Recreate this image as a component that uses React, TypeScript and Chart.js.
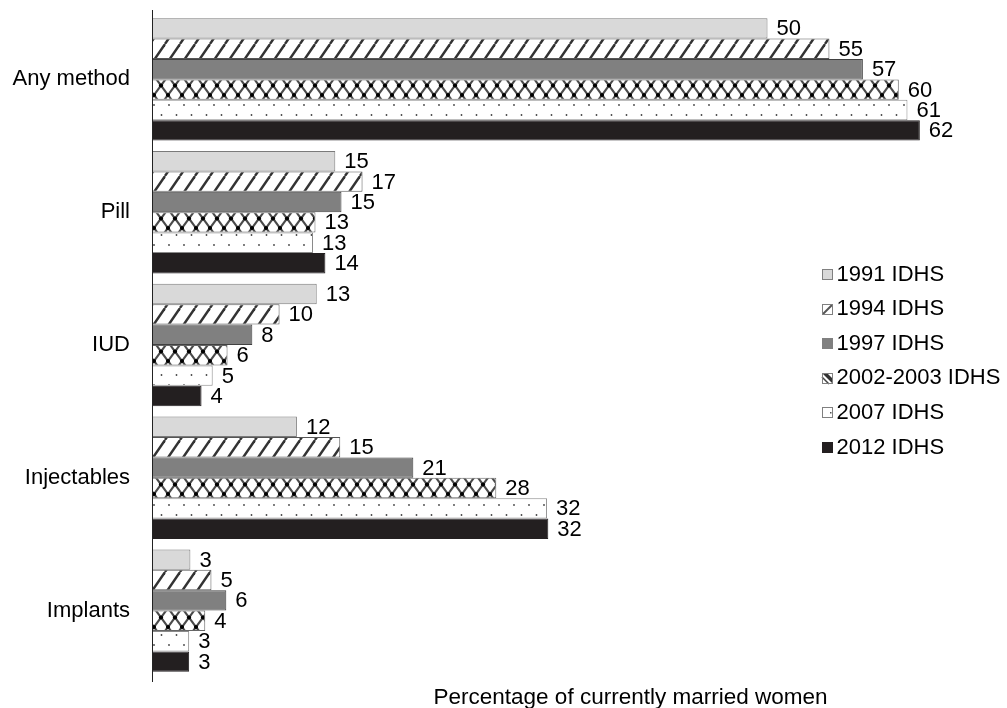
import React, { useEffect, useRef } from "react";
import { Chart, registerables } from "chart.js";

Chart.register(...registerables);

const categories = ["Any method", "Pill", "IUD", "Injectables", "Implants"];
const seriesNames = ["1991 IDHS", "1994 IDHS", "1997 IDHS", "2002-2003 IDHS", "2007 IDHS", "2012 IDHS"];
const values1991 = [49.7, 14.8, 13.3, 11.7, 3.1];
const values1994 = [54.7, 17.0, 10.3, 15.2, 4.8];
const values1997 = [57.4, 15.3, 8.1, 21.1, 6.0];
const values2002 = [60.3, 13.2, 6.1, 27.8, 4.3];
const values2007 = [61.0, 13.0, 4.9, 31.9, 3.0];
const values2012 = [62.0, 14.0, 4.0, 32.0, 3.0];
const axisTitle = "Percentage of currently married women";
const xMin = 0;
const xMax = 65;

const FONT = "'Liberation Sans', Arial, Helvetica, sans-serif";

function makeTile(w: number, h: number, draw: (g: CanvasRenderingContext2D) => void) {
  const c = document.createElement("canvas");
  c.width = w;
  c.height = h;
  const g = c.getContext("2d")!;
  draw(g);
  return c;
}

function buildPatterns(ctx: CanvasRenderingContext2D) {
  const hatch = ctx.createPattern(
    makeTile(15, 22, (g) => {
      g.fillStyle = "#ffffff";
      g.fillRect(0, 0, 15, 22);
      g.strokeStyle = "#333333";
      g.lineWidth = 2.4;
      for (const x of [-15, 0, 15]) {
        g.beginPath();
        g.moveTo(x, 22);
        g.lineTo(x + 15, 0);
        g.stroke();
      }
    }),
    "repeat"
  )!;
  const CW = 14;
  const CH = 19;
  const cross = ctx.createPattern(
    makeTile(CW, CH, (g) => {
      g.fillStyle = "#ffffff";
      g.fillRect(0, 0, CW, CH);
      g.strokeStyle = "#4a4a4a";
      g.lineWidth = 2.2;
      for (const dx of [-CW, 0, CW]) {
        for (const dy of [-CH, 0, CH]) {
          g.beginPath();
          g.moveTo(dx, dy);
          g.lineTo(dx + CW, dy + CH);
          g.stroke();
          g.beginPath();
          g.moveTo(dx + CW, dy);
          g.lineTo(dx, dy + CH);
          g.stroke();
        }
      }
      g.fillStyle = "#000000";
      for (const [x, y] of [[0, 0], [CW, 0], [0, CH], [CW, CH], [CW / 2, CH / 2]]) {
        g.beginPath();
        g.arc(x, y, 2.1, 0, Math.PI * 2);
        g.fill();
      }
    }),
    "repeat"
  )!;
  const dots = ctx.createPattern(
    makeTile(15, 20, (g) => {
      g.fillStyle = "#ffffff";
      g.fillRect(0, 0, 15, 20);
      g.fillStyle = "#444444";
      for (const [x, y] of [[4, 5], [11.5, 15]]) {
        g.beginPath();
        g.arc(x, y, 0.9, 0, Math.PI * 2);
        g.fill();
      }
    }),
    "repeat"
  )!;
  return { hatch, cross, dots };
}

const valueLabels = {
  id: "valueLabels",
  afterDatasetsDraw(chart: any) {
    const { ctx } = chart;
    ctx.save();
    ctx.font = `22px ${FONT}`;
    ctx.fillStyle = "#000";
    ctx.textAlign = "left";
    ctx.textBaseline = "middle";
    chart.data.datasets.forEach((ds: any, i: number) => {
      const meta = chart.getDatasetMeta(i);
      meta.data.forEach((bar: any, j: number) => {
        ctx.fillText(String(Math.round(ds.data[j])), bar.x + 9, bar.y + 1);
      });
    });
    ctx.restore();
  },
};

const axisLineExtend = {
  id: "axisLineExtend",
  afterDraw(chart: any) {
    const { ctx, chartArea } = chart;
    const x = Math.round(chartArea.left) + 0.5;
    ctx.save();
    ctx.strokeStyle = "#222222";
    ctx.lineWidth = 1;
    ctx.beginPath();
    ctx.moveTo(x, chartArea.top - 3);
    ctx.lineTo(x, chartArea.bottom + 5);
    ctx.stroke();
    ctx.restore();
  },
};

const customLegend = {
  id: "customLegend",
  afterDraw(chart: any) {
    const { ctx } = chart;
    ctx.save();
    ctx.font = `22px ${FONT}`;
    ctx.textAlign = "left";
    ctx.textBaseline = "middle";
    const x0 = 822;
    const y0 = 274.5;
    const step = 34.6;
    const s = 11;
    chart.data.datasets.forEach((ds: any, i: number) => {
      const cy = y0 + i * step;
      const bx = x0;
      const by = Math.round(cy - s / 2);
      ctx.save();
      if (i === 0) {
        ctx.fillStyle = "#d9d9d9";
        ctx.fillRect(bx, by, s, s);
      } else if (i === 1) {
        ctx.fillStyle = "#ffffff";
        ctx.fillRect(bx, by, s, s);
        ctx.strokeStyle = "#555";
        ctx.lineWidth = 2;
        ctx.beginPath();
        ctx.moveTo(bx + 1, by + s - 1);
        ctx.lineTo(bx + s - 1, by + 1);
        ctx.stroke();
      } else if (i === 2) {
        ctx.fillStyle = "#808080";
        ctx.fillRect(bx, by, s, s);
      } else if (i === 3) {
        ctx.fillStyle = "#ffffff";
        ctx.fillRect(bx, by, s, s);
        ctx.fillStyle = "#333";
        ctx.beginPath();
        ctx.moveTo(bx, by);
        ctx.lineTo(bx + 5, by);
        ctx.lineTo(bx + s, by + s - 5);
        ctx.lineTo(bx + s, by + s);
        ctx.closePath();
        ctx.fill();
        ctx.strokeStyle = "#444";
        ctx.lineWidth = 1.5;
        ctx.beginPath();
        ctx.moveTo(bx, by + 4);
        ctx.lineTo(bx + 7, by + s);
        ctx.stroke();
      } else if (i === 4) {
        ctx.fillStyle = "#ffffff";
        ctx.fillRect(bx, by, s, s);
        ctx.fillStyle = "#555";
        ctx.fillRect(bx + s - 3, by + 5, 1.5, 1.5);
      } else {
        ctx.fillStyle = "#231f20";
        ctx.fillRect(bx, by, s, s);
      }
      ctx.strokeStyle = i === 5 ? "#231f20" : "#808080";
      ctx.lineWidth = 1;
      ctx.strokeRect(bx + 0.5, by + 0.5, s - 1, s - 1);
      ctx.restore();
      ctx.fillStyle = "#000";
      ctx.fillText(ds.label, x0 + s + 3.5, cy);
    });
    ctx.restore();
  },
};

const axisTitlePlugin = {
  id: "axisTitlePlugin",
  afterDraw(chart: any) {
    const { ctx } = chart;
    ctx.save();
    ctx.font = `22.5px ${FONT}`;
    ctx.fillStyle = "#000";
    ctx.textAlign = "center";
    ctx.textBaseline = "alphabetic";
    ctx.fillText(axisTitle, 630.5, 704);
    ctx.restore();
  },
};

export default function App() {
  const ref = useRef<HTMLCanvasElement | null>(null);

  useEffect(() => {
    const canvas = ref.current!;
    const ctx = canvas.getContext("2d")!;
    const p = buildPatterns(ctx);
    const seriesValues = [values1991, values1994, values1997, values2002, values2007, values2012];
    const fills: any[] = ["#d9d9d9", p.hatch, "#808080", p.cross, p.dots, "#231f20"];
    const borders = ["#7a7a7a", "#555555", "#404040", "#666666", "#8a8a8a", "#231f20"];

    const chart = new Chart(ctx, {
      type: "bar",
      data: {
        labels: categories,
        datasets: seriesNames.map((name, i) => ({
          label: name,
          data: seriesValues[i],
          backgroundColor: fills[i],
          borderColor: borders[i],
          borderWidth: 1,
          borderSkipped: "start",
          categoryPercentage: 0.922,
          barPercentage: 1,
        })),
      },
      options: {
        indexAxis: "y",
        responsive: false,
        animation: false,
        devicePixelRatio: 1,
        layout: { padding: { top: 13, bottom: 31, right: 50, left: 0 } },
        plugins: {
          legend: { display: false },
          tooltip: { enabled: false },
        },
        scales: {
          x: { display: false, min: xMin, max: xMax },
          y: {
            grid: { display: false, drawTicks: false },
            border: { display: true, color: "#222222", width: 1 },
            ticks: { font: { family: FONT, size: 22 }, color: "#000", padding: 22 },
            afterFit: (s: any) => {
              s.width = 152;
              s.paddingTop = 0;
              s.paddingBottom = 0;
            },
          },
        },
      },
      plugins: [valueLabels, axisLineExtend, customLegend, axisTitlePlugin],
    } as any);

    return () => chart.destroy();
  }, []);

  return (
    <div style={{ position: "fixed", left: 0, top: 0, width: 1007, height: 708, background: "#fff" }}>
      <canvas ref={ref} width={1007} height={708} style={{ display: "block" }} />
    </div>
  );
}
